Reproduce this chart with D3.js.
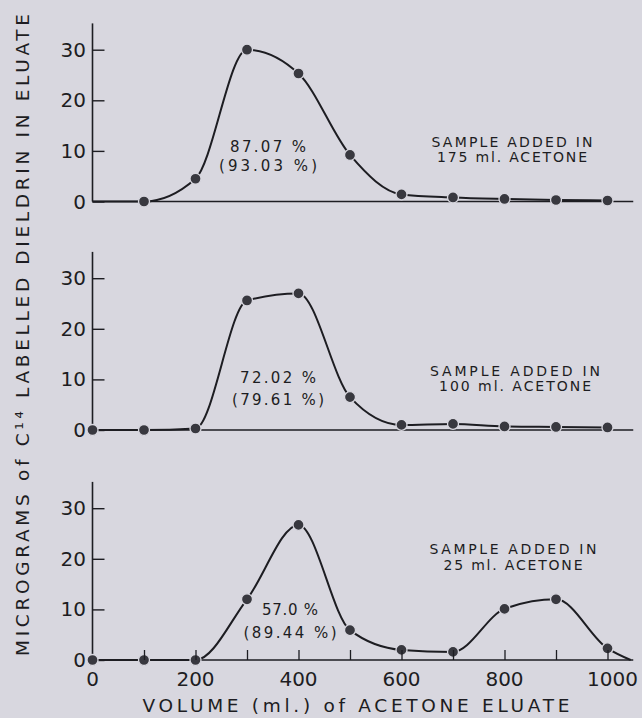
<!DOCTYPE html>
<html><head><meta charset="utf-8">
<script src="https://cdn.jsdelivr.net/npm/d3@7"></script>
<style>
html,body{margin:0;padding:0;background:#d8d7df;}
svg{display:block;}
text{font-family:"DejaVu Sans",sans-serif;fill:#1d1d22;}
</style></head><body>
<svg id="c" width="642" height="718"></svg>
<script>
// ---- data ----
const volumes = [0,100,200,300,400,500,600,700,800,900,1000];
const sample175 = [0,0,4.5,30.0,25.3,9.2,1.4,0.8,0.5,0.3,0.2];
const sample100 = [0,0,0.3,25.6,27.0,6.5,1.0,1.2,0.7,0.6,0.5];
const sample25  = [0,0,0,12.0,26.7,5.9,2.0,1.6,10.1,12.0,2.3];
const dots175 = [false,true,true,true,true,true,true,true,true,true,true];
const dots100 = [true,true,true,true,true,true,true,true,true,true,true];
const dots25  = [true,true,true,true,true,true,true,true,true,true,true];
const tail25 = [[1045,0]];
const yTicks = [0,10,20,30];
const xTicks = [0,200,400,600,800,1000];
const xMinor = [100,200,300,400,500,600,700,800,900,1000];
const recovery = [["87.07 %","(93.03 %)"],["72.02 %","(79.61 %)"],["57.0 %","(89.44 %)"]];
const sampleLabels = [["SAMPLE ADDED IN","175 ml. ACETONE"],["SAMPLE ADDED IN","100 ml. ACETONE"],["SAMPLE ADDED IN","25 ml. ACETONE"]];
const yTitle = "MICROGRAMS of C\u00B9\u2074 LABELLED DIELDRIN IN ELUATE";
const xTitle = "VOLUME (ml.) of ACETONE ELUATE";

// ---- layout ----
const svg = d3.select("#c");
const ink = "#1d1d22";
const x = d3.scaleLinear().domain([0,1000]).range([92.5,607.5]);
const panels = [
  {vals:sample175, dots:dots175, tail:[], y0:201.5, rec:[268,147,166], smp:[512,142,157], recW:[76,98], smpW:[161,150]},
  {vals:sample100, dots:dots100, tail:[], y0:430, rec:[278,378,400], smp:[515,371,386], recW:[76,92], smpW:[170,152]},
  {vals:sample25,  dots:dots25,  tail:tail25, y0:660, rec:[290,610,633], smp:[513,549,565], recW:[56,93], smpW:[167,139]}
];
const unit = 5.06;

panels.forEach((p,i)=>{
  const y = d3.scaleLinear().domain([0,35.2]).range([p.y0, p.y0-35.2*unit]);
  const g = svg.append("g");
  g.append("line").attr("x1",x(0)).attr("x2",x(0)).attr("y1",y(0)).attr("y2",y(35.2))
    .attr("stroke",ink).attr("stroke-width",1.6);
  g.append("line").attr("x1",x(0)).attr("x2",x(1050)).attr("y1",y(0)).attr("y2",y(0))
    .attr("stroke",ink).attr("stroke-width",1.6);
  const yAxis = d3.axisRight(y).tickValues(yTicks).tickSize(12).tickFormat("");
  const ya = g.append("g").attr("transform",`translate(${x(0)},0)`).call(yAxis);
  ya.select(".domain").remove();
  ya.selectAll("line").attr("stroke",ink).attr("stroke-width",1.4);
  g.selectAll("text.yt").data(yTicks).join("text").attr("class","yt")
    .attr("x",86).attr("y",d=>y(d)).attr("text-anchor","end").attr("dominant-baseline","central")
    .attr("font-size",20).text(d=>d);
  const pts = volumes.map((v,k)=>[v,p.vals[k]]).concat(p.tail);
  const line = d3.line().x(d=>x(d[0])).y(d=>y(d[1])).curve(d3.curveMonotoneX);
  g.append("path").attr("d",line(pts)).attr("fill","none").attr("stroke",ink).attr("stroke-width",2);
  const dd = volumes.map((v,k)=>({v,val:p.vals[k],show:p.dots[k]})).filter(d=>d.show);
  g.selectAll("circle").data(dd).join("circle")
    .attr("cx",d=>x(d.v)).attr("cy",d=>y(d.val)).attr("r",5.5)
    .attr("fill","#38383f").attr("stroke","#d8d7df").attr("stroke-width",1.3);
  recovery[i].forEach((t,k)=>{
    g.append("text").attr("x",p.rec[0]).attr("y",p.rec[1+k]).attr("text-anchor","middle")
      .attr("dominant-baseline","central").attr("font-size",15)
      .attr("textLength",p.recW[k]).attr("lengthAdjust","spacing").text(t);
  });
  sampleLabels[i].forEach((t,k)=>{
    g.append("text").attr("x",p.smp[0]).attr("y",p.smp[1+k]).attr("text-anchor","middle")
      .attr("dominant-baseline","central").attr("font-size",14)
      .attr("textLength",p.smpW[k]).attr("lengthAdjust","spacing").text(t);
  });
  if(i===2){
    const xAxis = d3.axisTop(x).tickValues(xMinor).tickSize(10).tickFormat("");
    const xa = g.append("g").attr("transform",`translate(0,${y(0)})`).call(xAxis);
    xa.select(".domain").remove();
    xa.selectAll("line").attr("stroke",ink).attr("stroke-width",1.3);
    g.selectAll("text.xt").data(xTicks).join("text").attr("class","xt")
      .attr("x",d=>x(d)+(d===1000?5:0)).attr("y",679).attr("text-anchor","middle")
      .attr("dominant-baseline","central").attr("font-size",20).text(d=>d);
  }
});

svg.append("text").attr("transform","translate(22,335) rotate(-90)")
  .attr("text-anchor","middle").attr("dominant-baseline","central")
  .attr("font-size",18.5).attr("textLength",642).attr("lengthAdjust","spacing").text(yTitle);
svg.append("text").attr("x",356).attr("y",705)
  .attr("text-anchor","middle").attr("dominant-baseline","central")
  .attr("font-size",18.5).attr("textLength",427).attr("lengthAdjust","spacing").text(xTitle);
</script>
</body></html>
